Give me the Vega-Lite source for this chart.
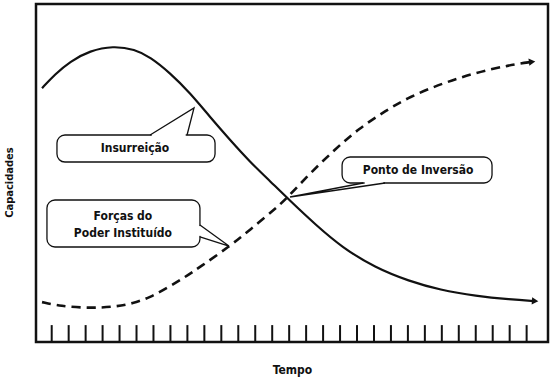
{
  "$schema": "https://vega.github.io/schema/vega-lite/v6.json",
  "width": 512,
  "height": 338,
  "autosize": {"type": "none"},
  "padding": {"left": 36, "top": 4, "right": 4, "bottom": 40},
  "background": "white",
  "config": {
    "view": {"stroke": "#111", "strokeWidth": 2.5},
    "axis": {"grid": false, "labels": false, "ticks": false, "domain": false,
             "titleFont": "DejaVu Sans Condensed, Liberation Sans, Arial, sans-serif",
             "titleFontWeight": "bold", "titleColor": "#111111"}
  },
  "datasets": {
    "ticks": [
      {"t": 1, "c": 0}, {"t": 2, "c": 0}, {"t": 3, "c": 0}, {"t": 4, "c": 0}, {"t": 5, "c": 0}, {"t": 6, "c": 0},
      {"t": 7, "c": 0}, {"t": 8, "c": 0}, {"t": 9, "c": 0}, {"t": 10, "c": 0}, {"t": 11, "c": 0}, {"t": 12, "c": 0},
      {"t": 13, "c": 0}, {"t": 14, "c": 0}, {"t": 15, "c": 0}, {"t": 16, "c": 0}, {"t": 17, "c": 0}, {"t": 18, "c": 0},
      {"t": 19, "c": 0}, {"t": 20, "c": 0}, {"t": 21, "c": 0}, {"t": 22, "c": 0}, {"t": 23, "c": 0}, {"t": 24, "c": 0},
      {"t": 25, "c": 0}, {"t": 26, "c": 0}, {"t": 27, "c": 0}, {"t": 28, "c": 0}, {"t": 29, "c": 0}
    ],
    "insurreicao": [
      {"t": 0.43, "c": 75.1}, {"t": 1.19, "c": 79.2}, {"t": 2.08, "c": 83.0}, {"t": 3.26, "c": 86.2},
      {"t": 4.61, "c": 87.6}, {"t": 5.91, "c": 86.6}, {"t": 6.80, "c": 84.3}, {"t": 7.98, "c": 79.6},
      {"t": 9.15, "c": 73.7}, {"t": 10.33, "c": 66.6}, {"t": 11.51, "c": 59.8}, {"t": 12.69, "c": 53.3},
      {"t": 13.87, "c": 47.6}, {"t": 15.05, "c": 41.8}, {"t": 16.58, "c": 34.6}, {"t": 18.12, "c": 28.0},
      {"t": 20.06, "c": 22.0}, {"t": 22.07, "c": 18.0}, {"t": 23.89, "c": 15.4}, {"t": 26.02, "c": 13.6},
      {"t": 28.02, "c": 12.6}, {"t": 29.5, "c": 12.1}
    ],
    "poder": [
      {"t": 0.43, "c": 11.8}, {"t": 1.49, "c": 10.6}, {"t": 3.26, "c": 10.0}, {"t": 4.7, "c": 10.4},
      {"t": 5.79, "c": 11.4}, {"t": 6.80, "c": 13.2}, {"t": 7.8, "c": 16.0}, {"t": 8.86, "c": 19.2},
      {"t": 9.75, "c": 22.2}, {"t": 11.51, "c": 28.4}, {"t": 12.69, "c": 33.2}, {"t": 14.23, "c": 39.6},
      {"t": 14.87, "c": 42.6}, {"t": 16.17, "c": 49.6}, {"t": 17.7, "c": 57.0}, {"t": 19.12, "c": 63.2},
      {"t": 20.65, "c": 68.3}, {"t": 22.07, "c": 72.5}, {"t": 24.07, "c": 76.6}, {"t": 26.02, "c": 79.7},
      {"t": 27.96, "c": 81.9}, {"t": 29.32, "c": 82.9}
    ],
    "boxes": [
      {"name": "Insurreição", "t": 1.31, "t2": 10.63, "c": 53.25, "c2": 61.24},
      {"name": "Ponto de Inversão", "t": 18.12, "t2": 26.96, "c": 47.04, "c2": 54.73},
      {"name": "Forças do Poder Instituído", "t": 0.72, "t2": 9.74, "c": 28.11, "c2": 42.01}
    ],
    "covers": [
      {"name": "Insurreição", "t": 6.90, "t2": 8.90, "c": 61.24, "c2": 61.24},
      {"name": "Ponto de Inversão", "t": 19.45, "t2": 20.55, "c": 47.04, "c2": 47.04},
      {"name": "Forças do Poder Instituído", "t": 9.74, "t2": 9.74, "c": 34.3, "c2": 31.4}
    ],
    "tails": [
      {"name": "Insurreição", "k": 1, "t": 6.80, "c": 61.24},
      {"name": "Insurreição", "k": 2, "t": 9.39, "c": 69.23},
      {"name": "Insurreição", "k": 3, "t": 8.98, "c": 61.24},
      {"name": "Ponto de Inversão", "k": 1, "t": 19.36, "c": 47.04},
      {"name": "Ponto de Inversão", "k": 2, "t": 15.05, "c": 42.9},
      {"name": "Ponto de Inversão", "k": 3, "t": 20.65, "c": 47.04},
      {"name": "Forças do Poder Instituído", "k": 1, "t": 9.74, "c": 34.62},
      {"name": "Forças do Poder Instituído", "k": 2, "t": 11.45, "c": 28.4},
      {"name": "Forças do Poder Instituído", "k": 3, "t": 9.74, "c": 31.07}
    ],
    "labels": [
      {"text": "Insurreição", "t": 5.91, "c": 57.4},
      {"text": "Ponto de Inversão", "t": 22.6, "c": 50.9},
      {"text": "Forças do", "t": 5.2, "c": 37.3},
      {"text": "Poder Instituído", "t": 5.2, "c": 32.2}
    ]
  },
  "encoding": {
    "x": {"field": "t", "type": "quantitative",
          "scale": {"domain": [0.074, 30.26], "nice": false, "zero": false},
          "axis": {"title": "Tempo", "titleFontSize": 12, "titlePadding": 22, "titleColor": "#111111"}},
    "y": {"field": "c", "type": "quantitative",
          "scale": {"domain": [0, 100], "nice": false, "zero": false},
          "axis": {"title": "Capacidades", "titleFontSize": 11, "titleY": 178, "titleX": -22, "titleColor": "#111111"}}
  },
  "layer": [
    {
      "data": {"name": "ticks"},
      "mark": {"type": "rule", "color": "#111", "strokeWidth": 2},
      "encoding": {"y2": {"datum": 5}}
    },
    {
      "data": {"name": "insurreicao"},
      "mark": {"type": "line", "color": "#111", "strokeWidth": 2.2, "interpolate": "basis"},
      "encoding": {}
    },
    {
      "data": {"name": "poder"},
      "mark": {"type": "line", "color": "#111", "strokeWidth": 2.6, "strokeDash": [9, 6], "interpolate": "basis"},
      "encoding": {}
    },
    {
      "data": {"values": [{"t": 29.5, "c": 12.1}]},
      "mark": {"type": "point", "shape": "triangle-right", "filled": true, "color": "#111", "size": 55, "angle": 4, "opacity": 1}
    },
    {
      "data": {"values": [{"t": 29.32, "c": 82.9}]},
      "mark": {"type": "point", "shape": "triangle-right", "filled": true, "color": "#111", "size": 55, "angle": 353, "opacity": 1}
    },
    {
      "data": {"name": "boxes"},
      "mark": {"type": "rect", "fill": "white", "stroke": "#111", "strokeWidth": 1.3, "cornerRadius": 8},
      "encoding": {"x2": {"field": "t2"}, "y2": {"field": "c2"}}
    },
    {
      "data": {"name": "covers"},
      "mark": {"type": "rule", "color": "white", "strokeWidth": 3},
      "encoding": {"x2": {"field": "t2"}, "y2": {"field": "c2"}}
    },
    {
      "data": {"name": "tails"},
      "mark": {"type": "line", "color": "#111", "strokeWidth": 1.3, "interpolate": "linear"},
      "encoding": {"detail": {"field": "name"}, "order": {"field": "k"}}
    },
    {
      "data": {"name": "labels"},
      "mark": {"type": "text", "font": "DejaVu Sans Condensed, Liberation Sans, Arial, sans-serif", "fontWeight": "bold", "fontSize": 12, "color": "#111", "align": "center", "baseline": "middle"},
      "encoding": {"text": {"field": "text"}}
    }
  ]
}
